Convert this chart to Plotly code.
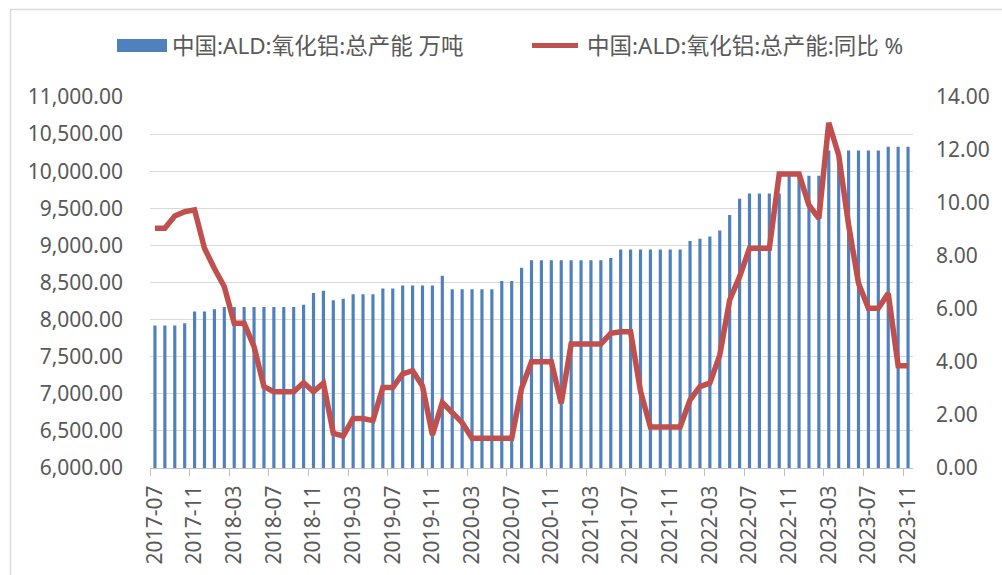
import plotly.graph_objects as go

months = [
    "2017-07", "2017-08", "2017-09", "2017-10", "2017-11", "2017-12",
    "2018-01", "2018-02", "2018-03", "2018-04", "2018-05", "2018-06",
    "2018-07", "2018-08", "2018-09", "2018-10", "2018-11", "2018-12",
    "2019-01", "2019-02", "2019-03", "2019-04", "2019-05", "2019-06",
    "2019-07", "2019-08", "2019-09", "2019-10", "2019-11", "2019-12",
    "2020-01", "2020-02", "2020-03", "2020-04", "2020-05", "2020-06",
    "2020-07", "2020-08", "2020-09", "2020-10", "2020-11", "2020-12",
    "2021-01", "2021-02", "2021-03", "2021-04", "2021-05", "2021-06",
    "2021-07", "2021-08", "2021-09", "2021-10", "2021-11", "2021-12",
    "2022-01", "2022-02", "2022-03", "2022-04", "2022-05", "2022-06",
    "2022-07", "2022-08", "2022-09", "2022-10", "2022-11", "2022-12",
    "2023-01", "2023-02", "2023-03", "2023-04", "2023-05", "2023-06",
    "2023-07", "2023-08", "2023-09", "2023-10", "2023-11",
]

capacity = [
    7920, 7920, 7920, 7950, 8110, 8110,
    8140, 8170, 8170, 8170, 8170, 8170,
    8170, 8170, 8170, 8200, 8360, 8390,
    8260, 8280, 8340, 8340, 8340, 8420,
    8420, 8460, 8460, 8460, 8460, 8590,
    8410, 8410, 8410, 8410, 8410, 8520,
    8520, 8700, 8800, 8800, 8800, 8800,
    8800, 8800, 8800, 8800, 8830, 8945,
    8945, 8945, 8945, 8945, 8945, 8945,
    9060, 9090, 9120, 9200, 9410, 9630,
    9700, 9700, 9700, 9700, 9940, 9940,
    9940, 9940, 10280, 10280, 10280, 10280,
    10280, 10280, 10330, 10330, 10330,
]

yoy = [
    9.05, 9.05, 9.51, 9.67, 9.74, 8.29,
    7.53, 6.84, 5.46, 5.46, 4.58, 3.07,
    2.88, 2.88, 2.88, 3.22, 2.88, 3.20,
    1.31, 1.21, 1.87, 1.87, 1.79, 3.04,
    3.04, 3.55, 3.67, 3.09, 1.25, 2.47,
    2.09, 1.71, 1.12, 1.12, 1.12, 1.12,
    1.12, 3.01, 4.01, 4.01, 4.01, 2.44,
    4.68, 4.68, 4.68, 4.68, 5.08, 5.14,
    5.14, 2.90, 1.55, 1.55, 1.55, 1.55,
    2.57, 3.07, 3.20, 4.26, 6.34, 7.22,
    8.29, 8.29, 8.29, 11.09, 11.09, 11.09,
    9.92, 9.42, 13.03, 11.81, 9.17, 6.97,
    6.03, 6.03, 6.59, 3.86, 3.86,
]

name_bar = "中国:ALD:氧化铝:总产能 万吨"
name_line = "中国:ALD:氧化铝:总产能:同比 %"

BLUE = "#4F81BD"
RED = "#C0504D"
TXT = "#595959"
GRID = "#D9D9D9"
FONT = "Noto Sans, Noto Sans CJK SC, sans-serif"

fig = go.Figure()
fig.add_trace(go.Bar(x=months, y=capacity, name=name_bar, marker_color=BLUE,
                     marker_line_width=0, yaxis="y", showlegend=False))
fig.add_trace(go.Scatter(x=months, y=yoy, name=name_line, mode="lines",
                         line=dict(color=RED, width=5.5), yaxis="y2", showlegend=False))

# plot area in pixels
L, R, T, B = 150, 913, 97, 468
W, H = R - L, B - T


def px(x):
    return (x - L) / W


def py(y):
    return (B - y) / H


shapes = [
    # chart border (top and left visible)
    dict(type="line", xref="paper", yref="paper", x0=px(10), x1=px(1010), y0=py(9.5), y1=py(9.5),
         line=dict(color=GRID, width=1.5)),
    dict(type="line", xref="paper", yref="paper", x0=px(10.5), x1=px(10.5), y0=py(9), y1=py(590),
         line=dict(color=GRID, width=1.5)),
    # legend symbols
    dict(type="rect", xref="paper", yref="paper", x0=px(117), x1=px(167), y0=py(52), y1=py(39),
         fillcolor=BLUE, line=dict(width=0)),
    dict(type="line", xref="paper", yref="paper", x0=px(532), x1=px(578), y0=py(45.5), y1=py(45.5),
         line=dict(color=RED, width=5)),
]

annotations = [
    dict(xref="paper", yref="paper", x=px(170), y=py(45.5), xanchor="left", yanchor="middle",
         text=name_bar, showarrow=False, font=dict(size=22.5, color=TXT, family=FONT)),
    dict(xref="paper", yref="paper", x=px(585), y=py(45.5), xanchor="left", yanchor="middle",
         text=name_line, showarrow=False, font=dict(size=22.5, color=TXT, family=FONT)),
]

fig.update_layout(
    width=1002, height=575,
    margin=dict(l=L, r=1002 - R, t=T, b=575 - B, autoexpand=False),
    paper_bgcolor="white", plot_bgcolor="white",
    font=dict(family=FONT, color=TXT, size=21),
    bargap=0.68,
    shapes=shapes,
    annotations=annotations,
    xaxis=dict(
        type="category", tickmode="linear", tick0=0, dtick=4,
        tickangle=-90, tickson="boundaries", automargin=False,
        ticks="outside", ticklen=7, tickcolor="#BFBFBF", tickwidth=1.3,
        showline=True, linecolor="#BFBFBF", linewidth=1.3,
        showgrid=False, tickfont=dict(size=21, color=TXT), ticklabelstandoff=8,
        range=[-0.5, len(months) - 0.5],
    ),
    yaxis=dict(
        range=[6000, 11000], dtick=500, tickformat=",.2f", automargin=False,
        showgrid=True, gridcolor=GRID, gridwidth=1.3,
        zeroline=False, showline=False, ticks="",
        tickfont=dict(size=21, color=TXT), ticklabelstandoff=26,
    ),
    yaxis2=dict(
        range=[0, 14], dtick=2, tickformat=".2f", overlaying="y", side="right", automargin=False,
        showgrid=False, zeroline=False, showline=False, ticks="",
        tickfont=dict(size=21, color=TXT), ticklabelstandoff=22,
    ),
)

fig.write_html("out.html", config={"displayModeBar": False},
               post_script="document.body.style.margin='0';")
